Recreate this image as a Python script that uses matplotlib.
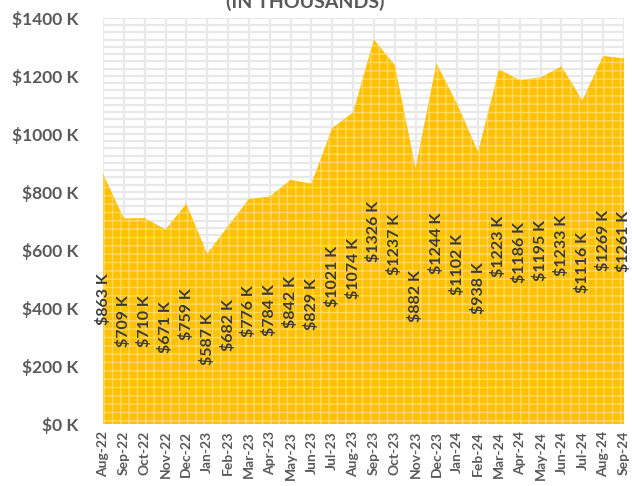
import numpy as np
import matplotlib.pyplot as plt
import matplotlib as mpl

# valeurs (en milliers)
mois = ['Aug-22', 'Sep-22', 'Oct-22', 'Nov-22', 'Dec-22', 'Jan-23', 'Feb-23',
        'Mar-23', 'Apr-23', 'May-23', 'Jun-23', 'Jul-23', 'Aug-23', 'Sep-23',
        'Oct-23', 'Nov-23', 'Dec-23', 'Jan-24', 'Feb-24', 'Mar-24', 'Apr-24',
        'May-24', 'Jun-24', 'Jul-24', 'Aug-24', 'Sep-24']
valeurs = [863, 709, 710, 671, 759, 587, 682, 776, 784, 842, 829, 1021, 1074,
           1326, 1237, 882, 1244, 1102, 938, 1223, 1186, 1195, 1233, 1116,
           1269, 1261]
yticks = [0, 200, 400, 600, 800, 1000, 1200, 1400]

plt.rcParams['font.family'] = ['Lato', 'DejaVu Sans']
mpl.rcParams['hatch.color'] = '#FFD966'
mpl.rcParams['hatch.linewidth'] = 1.0

fig = plt.figure(figsize=(6.32, 4.86), dpi=100)
ax = fig.add_axes([103 / 632, 1 - 424 / 486, 521 / 632, 406 / 486])

x = np.arange(len(mois))

# grille fine
for yy in np.arange(0, 1401, 25):
    ax.axhline(yy, color='#E9E9E9', lw=1.6, zorder=0)
for xx in x:
    ax.axvline(xx, color='#E9E9E9', lw=1.6, zorder=0)

ax.fill_between(x, valeurs, 0, facecolor='#FFC000', hatch='++',
                edgecolor='#FFD966', linewidth=0, zorder=2)

for xi, v in zip(x, valeurs):
    ax.text(xi, v / 2, f'${v} K', rotation=90, ha='center', va='center',
            fontsize=11.5, fontweight='bold', color='#3A3A3A', zorder=3,
            clip_on=False)

ax.set_xlim(0, len(mois) - 1)
ax.set_ylim(0, 1400)
ax.set_yticks(yticks)
ax.set_yticklabels([f'${t} K' for t in yticks], fontsize=12.5,
                   fontweight='bold', color='#595959')
ax.set_xticks(x)
ax.set_xticklabels(mois, rotation=90, fontsize=10, fontweight='bold',
                   color='#595959')
ax.tick_params(length=0, pad=5)
ax.tick_params(axis='y', pad=18)
for s in ax.spines.values():
    s.set_visible(False)

fig.text(0.483, 1 - 8 / 486, '(IN THOUSANDS)', ha='center', va='baseline',
         fontsize=14, fontweight='bold', color='#595959')

fig.savefig('out.png', dpi=100)
